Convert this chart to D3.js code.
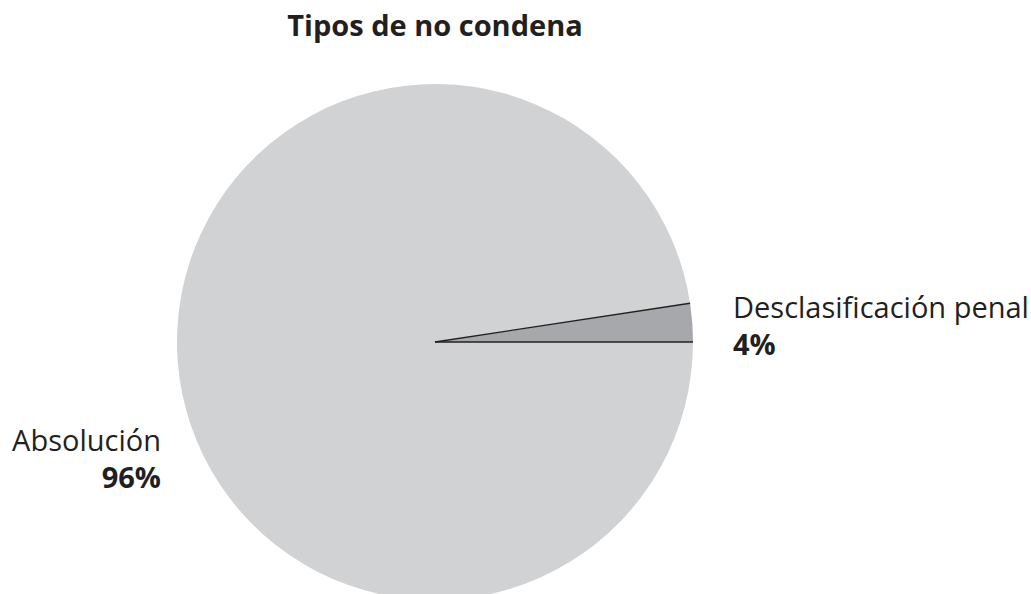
<!DOCTYPE html>
<html>
<head>
<meta charset="utf-8">
<script src="https://cdn.jsdelivr.net/npm/d3@7"></script>
<style>
  body { margin: 0; background: #fff; }
  text { font-family: "Open Sans", sans-serif; fill: #231f20; }
</style>
</head>
<body>
<div id="chart"></div>
<script>
// Data
const categories = ["Desclasificación penal", "Absolución"];
const values = [2.4, 97.6];
const percentLabels = ["4%", "96%"];
const sliceColors = ["#a7a8ab", "#d1d2d4"];

const width = 1031;
const height = 594;
const cx = 435, cy = 342, radius = 258;

const svg = d3.select("#chart")
  .append("svg")
  .attr("width", width)
  .attr("height", height)
  .attr("viewBox", [0, 0, width, height]);

// Title
svg.append("text")
  .attr("x", cx)
  .attr("y", 36)
  .attr("text-anchor", "middle")
  .attr("font-size", 29)
  .attr("font-weight", 700)
  .text("Tipos de no condena");

// Small slice ends at 3 o'clock, so start just before it
const total = d3.sum(values);
const start = Math.PI / 2 - (values[0] / total) * 2 * Math.PI;

const pie = d3.pie()
  .sort(null)
  .value((d) => d)
  .startAngle(start)
  .endAngle(start + 2 * Math.PI);

const arcs = pie(values);
const arc = d3.arc().innerRadius(0).outerRadius(radius);

const g = svg.append("g").attr("transform", `translate(${cx},${cy})`);

g.selectAll("path")
  .data(arcs)
  .join("path")
  .attr("d", arc)
  .attr("fill", (d, i) => sliceColors[i]);

// Dark radial separators between slices
g.selectAll("line")
  .data(arcs)
  .join("line")
  .attr("x1", 0)
  .attr("y1", 0)
  .attr("x2", (d) => radius * Math.sin(d.startAngle))
  .attr("y2", (d) => -radius * Math.cos(d.startAngle))
  .attr("stroke", "#231f20")
  .attr("stroke-width", 1.3);

// Labels
const labelPos = [
  { x: 733, y: 318, anchor: "start" },
  { x: 161, y: 451, anchor: "end" },
];

categories.forEach((c, i) => {
  const p = labelPos[i];
  const t = svg.append("text")
    .attr("x", p.x)
    .attr("y", p.y)
    .attr("text-anchor", p.anchor)
    .attr("font-size", 29);
  t.append("tspan").text(c);
  t.append("tspan")
    .attr("x", p.x)
    .attr("dy", 37)
    .attr("font-weight", 700)
    .text(percentLabels[i]);
});
</script>
</body>
</html>
